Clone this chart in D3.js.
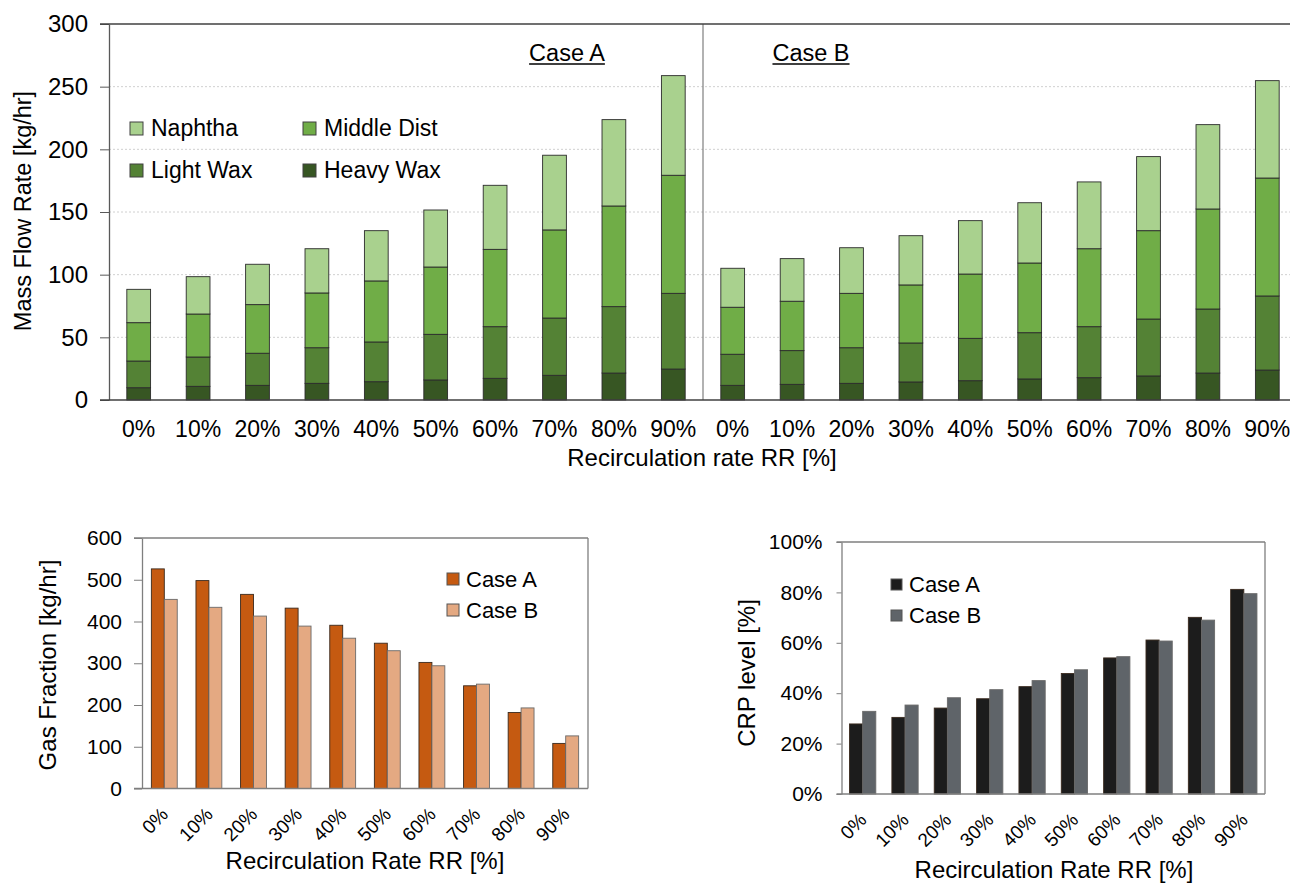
<!DOCTYPE html>
<html>
<head>
<meta charset="utf-8">
<script src="https://cdn.jsdelivr.net/npm/d3@7/dist/d3.min.js"></script>
<style>
  html, body { margin: 0; padding: 0; background: #fff; }
  svg { display: block; font-family: "Liberation Sans", Arial, sans-serif; }
</style>
</head>
<body>
<svg id="chart" width="1290" height="885"></svg>
<script>
// ---------------- DATA ----------------
const categories = ["0%","10%","20%","30%","40%","50%","60%","70%","80%","90%"];
const cases = ["Case A","Case B"];
const components = ["Heavy Wax","Light Wax","Middle Dist","Naphtha"];

// Top chart: product mass flow rate by component [kg/hr]
const caseA_heavyWax  = [9.8, 10.9, 11.7, 13.3, 14.6, 16.0, 17.3, 19.7, 21.5, 24.7];
const caseA_lightWax  = [21.3, 23.4, 25.6, 28.4, 31.7, 36.4, 41.2, 45.7, 53.0, 60.4];
const caseA_middle    = [30.6, 34.3, 38.8, 43.7, 48.7, 53.7, 61.7, 70.3, 80.3, 94.2];
const caseA_naphtha   = [26.6, 29.8, 32.2, 35.3, 40.1, 45.5, 51.1, 59.6, 68.9, 79.5];

const caseB_heavyWax  = [11.7, 12.5, 13.3, 14.4, 15.4, 16.8, 17.8, 19.2, 21.5, 23.9];
const caseB_lightWax  = [24.8, 26.9, 28.4, 31.1, 33.8, 36.9, 40.7, 45.4, 51.1, 59.1];
const caseB_middle    = [37.5, 39.4, 43.4, 46.3, 51.3, 55.6, 62.2, 70.5, 79.8, 94.1];
const caseB_naphtha   = [31.1, 34.0, 36.4, 39.3, 42.6, 48.1, 53.3, 59.1, 67.3, 77.7];

// Bottom-left: gas fraction [kg/hr]
const gasCaseA = [526, 498, 465, 432, 391, 348, 302, 246, 182, 108];
const gasCaseB = [453, 434, 413, 389, 360, 330, 294, 250, 193, 126];

// Bottom-right: CRP level [fraction]
const crpCaseA = [0.278, 0.304, 0.341, 0.378, 0.426, 0.478, 0.540, 0.611, 0.701, 0.812];
const crpCaseB = [0.328, 0.353, 0.382, 0.414, 0.450, 0.493, 0.545, 0.607, 0.690, 0.795];

// Tick labels
const topYTicks = [0, 50, 100, 150, 200, 250, 300];
const gasYTicks = [0, 100, 200, 300, 400, 500, 600];
const crpYTicks = [0, 0.2, 0.4, 0.6, 0.8, 1.0];

// ---------------- STYLE ----------------
const compColors = {
  "Naphtha": "#a9d18e",
  "Middle Dist": "#70ad47",
  "Light Wax": "#548235",
  "Heavy Wax": "#375623"
};
const gasColors = { "Case A": "#c55a11", "Case B": "#e4a982" };
const crpColors = { "Case A": "#1c1c1c", "Case B": "#5f6469" };

const svg = d3.select("#chart");
svg.append("rect").attr("width", 1290).attr("height", 885).attr("fill", "#fff");

// ================= TOP CHART =================
(function topChart() {
  const g = svg.append("g");
  const left = 109, right = 1297, top = 24, bottom = 400;
  const keys = [];
  const rows = [];
  const sources = {
    "Case A": [caseA_heavyWax, caseA_lightWax, caseA_middle, caseA_naphtha],
    "Case B": [caseB_heavyWax, caseB_lightWax, caseB_middle, caseB_naphtha]
  };
  cases.forEach(c => {
    categories.forEach((cat, i) => {
      const key = c + "|" + cat;
      keys.push(key);
      const row = { key, cat };
      components.forEach((comp, j) => row[comp] = sources[c][j][i]);
      rows.push(row);
    });
  });

  const x = d3.scaleBand().domain(keys).range([left, right]).paddingInner(0.6).paddingOuter(0.3);
  const y = d3.scaleLinear().domain([0, 300]).range([bottom, top]);

  // gridlines
  g.append("g").selectAll("line")
    .data(topYTicks.filter(t => t > 0 && t < 300))
    .join("line")
    .attr("x1", left).attr("x2", 1290)
    .attr("y1", d => y(d)).attr("y2", d => y(d))
    .attr("stroke", "#d0d0d0").attr("stroke-width", 1)
    .attr("stroke-dasharray", "2,2");

  // stacked bars
  const stack = d3.stack().keys(components)(rows);
  g.append("g").selectAll("g")
    .data(stack)
    .join("g")
    .attr("fill", d => compColors[d.key])
    .selectAll("rect")
    .data(d => d)
    .join("rect")
    .attr("x", d => x(d.data.key))
    .attr("width", x.bandwidth())
    .attr("y", d => y(d[1]))
    .attr("height", d => y(d[0]) - y(d[1]))
    .attr("stroke", "#2b2b2b")
    .attr("stroke-width", 0.9);

  // divider between cases
  const midX = (x(keys[9]) + x.bandwidth() + x(keys[10])) / 2;
  g.append("line")
    .attr("x1", midX).attr("x2", midX).attr("y1", top).attr("y2", bottom)
    .attr("stroke", "#7f7f7f").attr("stroke-width", 1.2);

  // y axis
  const yAxis = g.append("g")
    .attr("transform", `translate(${left},0)`)
    .call(d3.axisLeft(y).tickValues(topYTicks).tickSize(9).tickSizeOuter(0).tickPadding(12));
  yAxis.select(".domain").attr("stroke", "#595959").attr("stroke-width", 1.3);
  yAxis.selectAll(".tick line").attr("stroke", "#595959");
  yAxis.selectAll("text").attr("font-size", 24).attr("fill", "#000")
    .attr("font-family", "Liberation Sans, Arial, sans-serif");

  // top border and bottom axis lines
  g.append("line").attr("x1", 100).attr("x2", 1290).attr("y1", top).attr("y2", top)
    .attr("stroke", "#404040").attr("stroke-width", 1.5);
  g.append("line").attr("x1", 100).attr("x2", 1290).attr("y1", bottom).attr("y2", bottom)
    .attr("stroke", "#404040").attr("stroke-width", 1.5);

  // x tick labels
  const xAxis = g.append("g")
    .attr("transform", `translate(0,${bottom})`)
    .call(d3.axisBottom(x).tickSize(0).tickPadding(21).tickFormat(k => k.split("|")[1]));
  xAxis.select(".domain").remove();
  xAxis.selectAll("text").attr("font-size", 23).attr("fill", "#000")
    .attr("font-family", "Liberation Sans, Arial, sans-serif");

  // axis titles
  g.append("text")
    .attr("x", 702).attr("y", 466)
    .attr("text-anchor", "middle").attr("font-size", 24)
    .text("Recirculation rate RR [%]");
  g.append("text")
    .attr("transform", `translate(31,211) rotate(-90)`)
    .attr("text-anchor", "middle").attr("font-size", 23.5)
    .text("Mass Flow Rate [kg/hr]");

  // case labels (underlined)
  [["Case A", 567], ["Case B", 811]].forEach(([t, cx]) => {
    const tx = g.append("text")
      .attr("x", cx).attr("y", 61)
      .attr("text-anchor", "middle").attr("font-size", 23.5)
      .text(t);
    const w = tx.node().getComputedTextLength();
    g.append("line")
      .attr("x1", cx - w / 2).attr("x2", cx + w / 2)
      .attr("y1", 64).attr("y2", 64)
      .attr("stroke", "#000").attr("stroke-width", 1.5);
  });

  // legend
  const legendItems = [
    { name: "Naphtha", x: 130, y: 122 },
    { name: "Middle Dist", x: 303, y: 122 },
    { name: "Light Wax", x: 130, y: 164 },
    { name: "Heavy Wax", x: 303, y: 164 }
  ];
  const lg = g.append("g");
  legendItems.forEach(it => {
    lg.append("rect").attr("x", it.x).attr("y", it.y).attr("width", 13).attr("height", 13)
      .attr("fill", compColors[it.name]).attr("stroke", "#404040").attr("stroke-width", 1);
    lg.append("text").attr("x", it.x + 21).attr("y", it.y + 14)
      .attr("font-size", 23).text(it.name);
  });
})();

// ================= GROUPED BAR HELPER =================
function groupedChart(opts) {
  const g = svg.append("g");
  const { left, right, top, bottom, yDomain, yTicks, yFormat, seriesA, seriesB, colors } = opts;
  const x0 = d3.scaleBand().domain(categories).range([left, right])
    .paddingInner(opts.padIn).paddingOuter(opts.padIn / 2);
  const x1 = d3.scaleBand().domain(cases).range([0, x0.bandwidth()]);
  const y = d3.scaleLinear().domain(yDomain).range([bottom, top]);

  const data = categories.map((c, i) => ({ cat: c, values: [
    { k: "Case A", v: seriesA[i] }, { k: "Case B", v: seriesB[i] } ] }));

  g.append("g").selectAll("g").data(data).join("g")
    .attr("transform", d => `translate(${x0(d.cat)},0)`)
    .selectAll("rect").data(d => d.values).join("rect")
    .attr("x", d => x1(d.k))
    .attr("width", x1.bandwidth())
    .attr("y", d => y(d.v))
    .attr("height", d => y(yDomain[0]) - y(d.v))
    .attr("fill", d => colors[d.k])
    .attr("stroke", d => d.k === "Case A" ? "#3a2a1e" : "#6a6a6a")
    .attr("stroke-width", 0.9);

  // frame
  const frameColor = "#7f7f7f";
  g.append("line").attr("x1", left - opts.tick).attr("x2", right).attr("y1", top).attr("y2", top)
    .attr("stroke", frameColor).attr("stroke-width", 1.3);
  g.append("line").attr("x1", right).attr("x2", right).attr("y1", top).attr("y2", bottom)
    .attr("stroke", frameColor).attr("stroke-width", 1.3);
  g.append("line").attr("x1", left - opts.tick).attr("x2", right).attr("y1", bottom).attr("y2", bottom)
    .attr("stroke", frameColor).attr("stroke-width", 1.3);

  const yAxis = g.append("g").attr("transform", `translate(${left},0)`)
    .call(d3.axisLeft(y).tickValues(yTicks).tickSize(opts.tick).tickSizeOuter(0)
      .tickPadding(opts.tickPad).tickFormat(yFormat));
  yAxis.select(".domain").attr("stroke", frameColor).attr("stroke-width", 1.3);
  yAxis.selectAll(".tick line").attr("stroke", frameColor);
  yAxis.selectAll("text").attr("font-size", opts.tickFont).attr("fill", "#000")
    .attr("font-family", "Liberation Sans, Arial, sans-serif");

  // rotated x labels
  g.append("g").selectAll("text").data(categories).join("text")
    .attr("transform", d => `translate(${x0(d) + x0.bandwidth() / 2 + 5},${bottom + 27}) rotate(-45)`)
    .attr("text-anchor", "end")
    .attr("font-size", opts.xFont)
    .text(d => d);

  // titles
  g.append("text").attr("x", opts.xTitle[0]).attr("y", opts.xTitle[1])
    .attr("text-anchor", "middle").attr("font-size", 24).text("Recirculation Rate RR [%]");
  g.append("text").attr("transform", `translate(${opts.yTitle[0]},${opts.yTitle[1]}) rotate(-90)`)
    .attr("text-anchor", "middle").attr("font-size", 24).text(opts.yLabel);

  // legend
  cases.forEach((c, i) => {
    const ly = opts.legend[1] + i * 31;
    g.append("rect").attr("x", opts.legend[0]).attr("y", ly).attr("width", opts.legSq).attr("height", opts.legSq)
      .attr("fill", colors[c]).attr("stroke", "#555").attr("stroke-width", 1);
    g.append("text").attr("x", opts.legend[0] + opts.legSq + 7).attr("y", ly + opts.legSq + 2)
      .attr("font-size", 22).text(c);
  });
}

// ================= BOTTOM-LEFT =================
groupedChart({
  left: 142, right: 588, top: 538, bottom: 788.5,
  yDomain: [0, 600], yTicks: gasYTicks, yFormat: d3.format("d"),
  seriesA: gasCaseA, seriesB: gasCaseB, colors: gasColors,
  padIn: 0.42, tick: 8, tickPad: 12, tickFont: 21, xFont: 19,
  xTitle: [365, 869], yTitle: [56, 665], yLabel: "Gas Fraction [kg/hr]",
  legend: [447, 573], legSq: 12
});

// ================= BOTTOM-RIGHT =================
groupedChart({
  left: 841.5, right: 1265, top: 542, bottom: 794,
  yDomain: [0, 1], yTicks: crpYTicks, yFormat: d3.format(".0%"),
  seriesA: crpCaseA, seriesB: crpCaseB, colors: crpColors,
  padIn: 0.38, tick: 5, tickPad: 14, tickFont: 21, xFont: 19,
  xTitle: [1054, 878], yTitle: [755, 673], yLabel: "CRP level [%]",
  legend: [891, 579], legSq: 11
});
</script>
</body>
</html>
